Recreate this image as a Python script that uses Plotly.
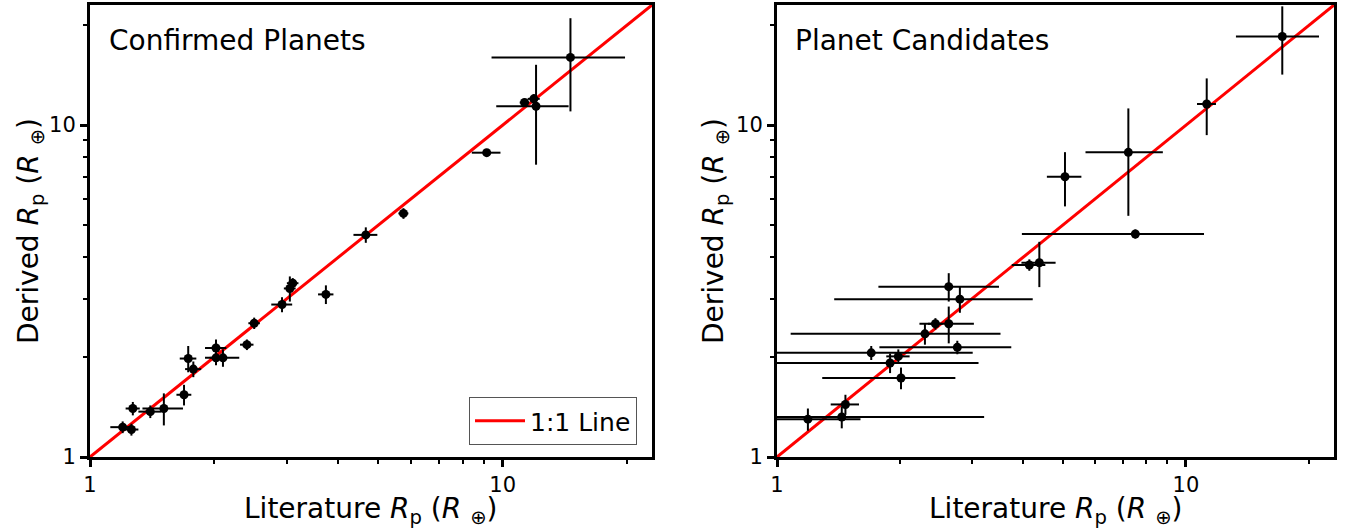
import plotly.graph_objects as go

# Confirmed planets: literature radius vs. derived radius (Earth radii)
conf_lit = [1.20, 1.26, 1.27, 1.40, 1.51, 1.69, 1.73, 1.78, 2.02, 2.02, 2.10, 2.40,
            2.50, 2.92, 3.05, 3.10, 3.73, 4.66, 5.75, 9.15, 11.3, 11.9, 12.05, 14.6]
conf_lit_err = [0.08, 0.05, 0.05, 0.09, 0.17, 0.07, 0.08, 0.08, 0.12, 0.07, 0.20, 0.09,
                0.08, 0.17, 0.10, 0.10, 0.16, 0.31, 0.16, 0.73, 0.30, 0.40, 2.4, 5.2]
conf_der = [1.23, 1.21, 1.40, 1.37, 1.40, 1.54, 1.98, 1.84, 2.13, 1.99, 1.99, 2.18,
            2.53, 2.88, 3.22, 3.34, 3.09, 4.67, 5.42, 8.26, 11.7, 12.0, 11.4, 16.0]
conf_der_err = [0.05, 0.05, 0.065, 0.06, 0.155, 0.11, 0.18, 0.10, 0.13, 0.10, 0.12, 0.08,
                0.10, 0.15, 0.28, 0.12, 0.20, 0.25, 0.20, 0.10, 0.30, 0.40, 3.8, 5.0]

# Planet candidates
cand_lit = [1.19, 1.44, 1.47, 2.01, 1.89, 1.98, 1.70, 2.30, 2.44, 2.63, 2.76, 2.63,
            2.80, 4.14, 4.38, 7.52, 5.06, 7.23, 11.24, 17.2]
cand_lit_err = [0.41, 1.77, 0.117, 0.72, 1.22, 0.13, 1.31, 1.22, 0.10, 0.40, 0.98, 0.86,
                1.42, 0.39, 0.42, 3.55, 0.49, 1.55, 0.60, 3.95]
cand_der = [1.30, 1.32, 1.44, 1.73, 1.92, 2.01, 2.06, 2.35, 2.52, 2.52, 2.14, 3.26,
            2.99, 3.79, 3.85, 4.70, 6.99, 8.28, 11.58, 18.5]
cand_der_err = [0.10, 0.10, 0.10, 0.13, 0.13, 0.10, 0.10, 0.17, 0.10, 0.32, 0.10, 0.32,
                0.27, 0.15, 0.60, 0.15, 1.30, 2.95, 2.25, 4.3]

one_to_one = [1, 30]
major_ticks = [1, 10]
major_labels = ["1", "10"]
minor_ticks = [2, 3, 4, 5, 6, 7, 8, 9, 20]
panel_titles = ["Confirmed Planets", "Planet Candidates"]

W, H = 1351, 531
FONT = "DejaVu Sans"
LOG_MAX = 1.362

fig = go.Figure()

panels = [
    ("x", "y", conf_lit, conf_lit_err, conf_der, conf_der_err, True),
    ("x2", "y2", cand_lit, cand_lit_err, cand_der, cand_der_err, False),
]
for xa, ya, lx, lxe, dy, dye, show in panels:
    fig.add_trace(go.Scatter(
        x=one_to_one, y=one_to_one, mode="lines",
        line=dict(color="#ff0000", width=3),
        name="1:1 Line", showlegend=show, xaxis=xa, yaxis=ya,
    ))
    fig.add_trace(go.Scatter(
        x=lx, y=dy, mode="markers",
        marker=dict(color="black", size=9),
        error_x=dict(type="data", array=lxe, color="black", thickness=2, width=0),
        error_y=dict(type="data", array=dye, color="black", thickness=2, width=0),
        showlegend=False, xaxis=xa, yaxis=ya,
    ))

def axis(domain, anchor):
    return dict(
        domain=domain, anchor=anchor, type="log", range=[0, LOG_MAX],
        automargin=False,
        showline=True, linewidth=3, linecolor="black", mirror=True,
        showgrid=False, zeroline=False,
        ticks="outside", ticklen=7, tickwidth=2.5, tickcolor="black",
        tickvals=major_ticks, ticktext=major_labels,
        tickfont=dict(family=FONT, size=21, color="black"),
        minor=dict(tickvals=minor_ticks, ticks="outside", ticklen=4,
                   tickwidth=2, tickcolor="black", showgrid=False),
    )

ydom = [1 - 457 / H, 1 - 5 / H]
fig.update_layout(
    width=W, height=H,
    margin=dict(l=0, r=0, t=0, b=0, autoexpand=False),
    paper_bgcolor="white", plot_bgcolor="white",
    font=dict(family=FONT, color="black"),
    xaxis=axis([90 / W, 652 / W], "y"),
    yaxis=axis(ydom, "x"),
    xaxis2=axis([777 / W, 1334 / W], "y2"),
    yaxis2=axis(ydom, "x2"),
    legend=dict(
        x=637 / W, xanchor="right", y=1 - 445 / H, yanchor="bottom",
        bgcolor="white", bordercolor="#555555", borderwidth=1,
        font=dict(family=FONT, size=25, color="black"),
        itemwidth=50,
    ),
)

xlabel = "Literature <i>R</i><sub>p</sub> (<i>R</i> <sub>⊕</sub>)"
ylabel = "Derived <i>R</i><sub>p</sub> (<i>R</i> <sub>⊕</sub>)"
annotations = []
for title, x_left, x_center, y_title_x in [
    (panel_titles[0], 107, 371, 30),
    (panel_titles[1], 793, 1055, 715),
]:
    annotations.append(dict(text=title, x=x_left / W, y=1 - 40 / H, xref="paper", yref="paper",
                            xanchor="left", yanchor="middle", showarrow=False,
                            font=dict(family=FONT, size=28, color="black")))
    annotations.append(dict(text=xlabel, x=x_center / W, y=1 - 510 / H, xref="paper", yref="paper",
                            xanchor="center", yanchor="middle", showarrow=False,
                            font=dict(family=FONT, size=28, color="black")))
    annotations.append(dict(text=ylabel, x=y_title_x / W, y=1 - 231 / H, xref="paper", yref="paper",
                            xanchor="center", yanchor="middle", showarrow=False, textangle=-90,
                            font=dict(family=FONT, size=28, color="black")))
fig.update_layout(annotations=annotations)

fig.write_html("out.html")
